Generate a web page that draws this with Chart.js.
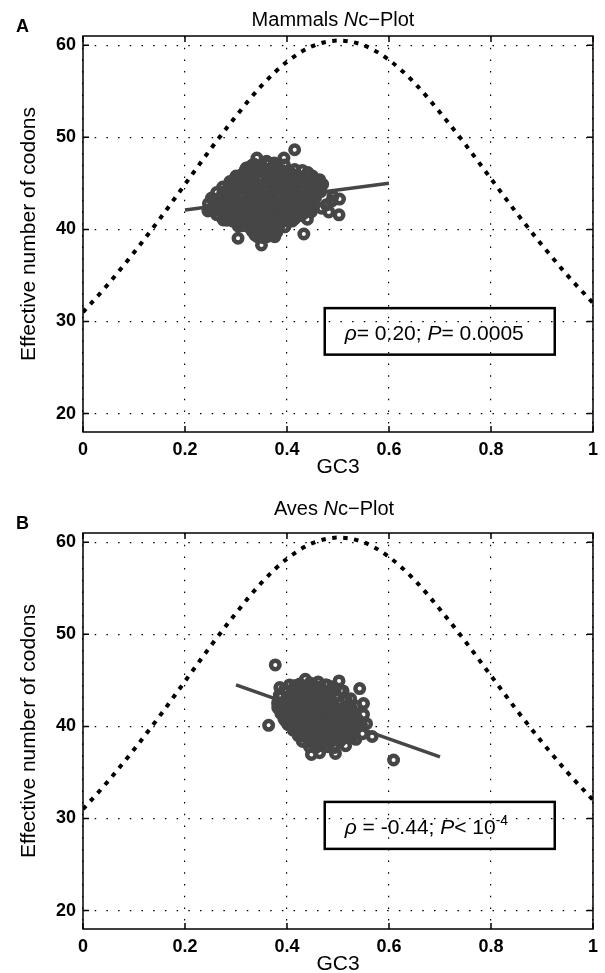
<!DOCTYPE html>
<html>
<head>
<meta charset="utf-8">
<script src="https://cdn.jsdelivr.net/npm/chart.js@4.4.0/dist/chart.umd.min.js"></script>
<style>
html, body { margin: 0; padding: 0; background: #fff; overflow: hidden; }
.panel { position: absolute; left: 0; width: 605px; height: 485px; }
</style>
</head>
<body>
<div class="panel" style="top:0"><canvas id="mammals" width="605" height="485"></canvas></div>
<div class="panel" style="top:497px"><canvas id="aves" width="605" height="485"></canvas></div>
<script>
// axis ticks
const xTickValues = [0, 0.2, 0.4, 0.6, 0.8, 1];
const xTickLabels = ['0', '0.2', '0.4', '0.6', '0.8', '1'];
const yTickValues = [20, 30, 40, 50, 60];
const yTickLabels = ['20', '30', '40', '50', '60'];

// expected Nc curve
const expectedGC3 = [0, 0.05, 0.1, 0.15, 0.2, 0.25, 0.3, 0.35, 0.4, 0.45, 0.5,
                     0.55, 0.6, 0.65, 0.7, 0.75, 0.8, 0.85, 0.9, 0.95, 1];
const expectedNc = [31.0, 34.1, 37.5, 41.1, 44.9, 48.7, 52.3, 55.6, 58.2, 59.9, 60.5,
                    60.0, 58.4, 55.9, 52.7, 49.2, 45.5, 41.8, 38.3, 35.0, 32.0];

// Mammals genes: scattered ones
const mammalsGC3 = [
  0.415, 0.394, 0.341, 0.433, 0.304, 0.350, 0.503, 0.502, 0.477, 0.275, 0.304, 0.448, 0.441, 0.337, 0.360, 0.366,
  0.255, 0.257, 0.275, 0.320, 0.300, 0.464, 0.461, 0.435, 0.488, 0.470, 0.245, 0.262, 0.283, 0.290, 0.310, 0.330,
  0.360, 0.375, 0.390, 0.405, 0.420, 0.430, 0.450, 0.455, 0.440, 0.425, 0.410, 0.395, 0.380, 0.355, 0.345, 0.320,
  0.300, 0.285, 0.270, 0.265, 0.280, 0.295,
  0.40, 0.42, 0.36, 0.34, 0.32, 0.35, 0.37, 0.39, 0.41,
  0.43, 0.415, 0.37, 0.358, 0.372, 0.44, 0.45, 0.468, 0.49, 0.482,
  0.405, 0.415, 0.43, 0.45, 0.455, 0.395, 0.375, 0.36, 0.335, 0.325
];
const mammalsNc = [
  48.65, 47.75, 47.75, 39.5, 39.04, 38.31, 43.29, 41.58, 42.67, 41.03, 40.38, 41.94, 46.18, 39.4, 39.2, 39.6,
  43.2, 42.3, 44.1, 46.66, 45.4, 45.4, 44.5, 43.4, 43.1, 44.9, 42.0, 41.6, 42.6, 44.8, 45.9, 46.9,
  46.3, 46.8, 46.0, 45.6, 45.9, 45.1, 44.2, 43.4, 42.6, 41.5, 40.9, 40.3, 39.9, 39.7, 40.2, 40.9,
  41.5, 41.9, 42.4, 43.0, 43.6, 44.2,
  42.5, 42.9, 42.5, 42.4, 42.6, 43.0, 43.1, 43.0, 43.3,
  42.0, 41.2, 40.0, 39.3, 39.4, 41.1, 42.4, 42.3, 43.6, 41.9,
  46.3, 46.5, 46.4, 45.8, 44.9, 47.0, 47.2, 47.4, 47.1, 46.3
];
// Mammals genes: the dense core of the cloud, row by row
const mammalsCoreGC3 = [
  0.338, 0.350, 0.362,
  0.318, 0.330, 0.342, 0.354, 0.366, 0.378, 0.390,
  0.300, 0.312, 0.324, 0.336, 0.348, 0.360, 0.372, 0.384, 0.396, 0.408, 0.420,
  0.288, 0.300, 0.312, 0.324, 0.336, 0.348, 0.360, 0.372, 0.384, 0.396, 0.408, 0.420, 0.432, 0.444, 0.456,
  0.274, 0.286, 0.298, 0.310, 0.322, 0.334, 0.346, 0.358, 0.370, 0.382, 0.394, 0.406, 0.418, 0.430, 0.442, 0.454, 0.466,
  0.262, 0.274, 0.286, 0.298, 0.310, 0.322, 0.334, 0.346, 0.358, 0.370, 0.382, 0.394, 0.406, 0.418, 0.430, 0.442, 0.454, 0.466,
  0.252, 0.264, 0.276, 0.288, 0.300, 0.312, 0.324, 0.336, 0.348, 0.360, 0.372, 0.384, 0.396, 0.408, 0.420, 0.432, 0.444, 0.456,
  0.246, 0.258, 0.270, 0.282, 0.294, 0.306, 0.318, 0.330, 0.342, 0.354, 0.366, 0.378, 0.390, 0.402, 0.414, 0.426, 0.438, 0.450,
  0.250, 0.262, 0.274, 0.286, 0.298, 0.310, 0.322, 0.334, 0.346, 0.358, 0.370, 0.382, 0.394, 0.406, 0.418, 0.430, 0.442,
  0.264, 0.276, 0.288, 0.300, 0.312, 0.324, 0.336, 0.348, 0.360, 0.372, 0.384, 0.396, 0.408, 0.420, 0.432,
  0.282, 0.294, 0.306, 0.318, 0.330, 0.342, 0.354, 0.366, 0.378, 0.390, 0.402, 0.414,
  0.312, 0.324, 0.336, 0.348, 0.360, 0.372, 0.384, 0.396,
  0.332, 0.344, 0.356, 0.368, 0.380,
  0.342, 0.354, 0.366, 0.376
];
const mammalsCoreNc = [
  47.0, 46.9, 47.1,
  46.4, 46.5, 46.3, 46.4, 46.5, 46.3, 46.4,
  45.8, 45.7, 45.9, 45.8, 45.7, 45.9, 45.8, 45.7, 45.9, 45.8, 45.7,
  45.2, 45.1, 45.3, 45.2, 45.1, 45.3, 45.2, 45.1, 45.3, 45.2, 45.1, 45.3, 45.2, 45.1, 45.3,
  44.6, 44.5, 44.7, 44.6, 44.5, 44.7, 44.6, 44.5, 44.7, 44.6, 44.5, 44.7, 44.6, 44.5, 44.7, 44.6, 44.5,
  44.0, 43.9, 44.1, 44.0, 43.9, 44.1, 44.0, 43.9, 44.1, 44.0, 43.9, 44.1, 44.0, 43.9, 44.1, 44.0, 43.9, 44.1,
  43.4, 43.3, 43.5, 43.4, 43.3, 43.5, 43.4, 43.3, 43.5, 43.4, 43.3, 43.5, 43.4, 43.3, 43.5, 43.4, 43.3, 43.5,
  42.8, 42.7, 42.9, 42.8, 42.7, 42.9, 42.8, 42.7, 42.9, 42.8, 42.7, 42.9, 42.8, 42.7, 42.9, 42.8, 42.7, 42.9,
  42.2, 42.1, 42.3, 42.2, 42.1, 42.3, 42.2, 42.1, 42.3, 42.2, 42.1, 42.3, 42.2, 42.1, 42.3, 42.2, 42.1,
  41.6, 41.5, 41.7, 41.6, 41.5, 41.7, 41.6, 41.5, 41.7, 41.6, 41.5, 41.7, 41.6, 41.5, 41.7,
  41.0, 40.9, 41.1, 41.0, 40.9, 41.1, 41.0, 40.9, 41.1, 41.0, 40.9, 41.1,
  40.4, 40.3, 40.5, 40.4, 40.3, 40.5, 40.4, 40.3,
  39.8, 39.7, 39.9, 39.8, 39.7,
  39.2, 39.1, 39.3, 39.2
];
const mammalsFitGC3 = [0.2, 0.6];
const mammalsFitNc = [42.1, 45.0];

// Aves genes: scattered ones
const avesGC3 = [
  0.377, 0.364, 0.609, 0.567, 0.448, 0.464, 0.495, 0.5425, 0.502, 0.461, 0.436, 0.386, 0.415, 0.51, 0.516, 0.55,
  0.382, 0.397, 0.39, 0.385, 0.395, 0.405, 0.425, 0.445, 0.475, 0.49, 0.505, 0.525, 0.535, 0.55, 0.556, 0.548,
  0.535, 0.515, 0.43, 0.42, 0.41, 0.40, 0.52, 0.53, 0.51
];
const avesNc = [
  46.68, 40.12, 36.35, 38.9, 36.96, 37.15, 37.07, 44.11, 44.94, 44.83, 45.12, 44.22, 44.4, 43.85, 42.87, 42.48,
  42.4, 40.59, 41.9, 43.4, 44.0, 44.5, 44.6, 44.7, 44.5, 44.3, 43.9, 43.0, 42.2, 41.3, 40.3, 39.2,
  38.6, 37.9, 38.4, 39.3, 40.0, 40.9, 40.6, 41.4, 41.9
];
// Aves genes: the dense core of the cloud, row by row
const avesCoreGC3 = [
  0.418, 0.430, 0.442, 0.454, 0.466, 0.478,
  0.398, 0.410, 0.422, 0.434, 0.446, 0.458, 0.470, 0.482, 0.494,
  0.388, 0.400, 0.412, 0.424, 0.436, 0.448, 0.460, 0.472, 0.484, 0.496,
  0.382, 0.394, 0.406, 0.418, 0.430, 0.442, 0.454, 0.466, 0.478, 0.490, 0.502,
  0.382, 0.394, 0.406, 0.418, 0.430, 0.442, 0.454, 0.466, 0.478, 0.490, 0.502, 0.514, 0.526,
  0.388, 0.400, 0.412, 0.424, 0.436, 0.448, 0.460, 0.472, 0.484, 0.496, 0.508, 0.520, 0.532,
  0.394, 0.406, 0.418, 0.430, 0.442, 0.454, 0.466, 0.478, 0.490, 0.502, 0.514, 0.526, 0.538,
  0.402, 0.414, 0.426, 0.438, 0.450, 0.462, 0.474, 0.486, 0.498, 0.510, 0.522, 0.534, 0.546,
  0.412, 0.424, 0.436, 0.448, 0.460, 0.472, 0.484, 0.496, 0.508, 0.520, 0.532,
  0.422, 0.434, 0.446, 0.458, 0.470, 0.482, 0.494, 0.506, 0.518, 0.530,
  0.432, 0.444, 0.456, 0.468, 0.480, 0.492, 0.504,
  0.444, 0.456, 0.468, 0.480, 0.492
];
const avesCoreNc = [
  44.4, 44.3, 44.5, 44.4, 44.3, 44.5,
  43.8, 43.7, 43.9, 43.8, 43.7, 43.9, 43.8, 43.7, 43.9,
  43.2, 43.1, 43.3, 43.2, 43.1, 43.3, 43.2, 43.1, 43.3, 43.2,
  42.6, 42.5, 42.7, 42.6, 42.5, 42.7, 42.6, 42.5, 42.7, 42.6, 42.5,
  42.0, 41.9, 42.1, 42.0, 41.9, 42.1, 42.0, 41.9, 42.1, 42.0, 41.9, 42.1, 42.0,
  41.4, 41.3, 41.5, 41.4, 41.3, 41.5, 41.4, 41.3, 41.5, 41.4, 41.3, 41.5, 41.4,
  40.8, 40.7, 40.9, 40.8, 40.7, 40.9, 40.8, 40.7, 40.9, 40.8, 40.7, 40.9, 40.8,
  40.2, 40.1, 40.3, 40.2, 40.1, 40.3, 40.2, 40.1, 40.3, 40.2, 40.1, 40.3, 40.2,
  39.6, 39.5, 39.7, 39.6, 39.5, 39.7, 39.6, 39.5, 39.7, 39.6, 39.5,
  39.0, 38.9, 39.1, 39.0, 38.9, 39.1, 39.0, 38.9, 39.1, 39.0,
  38.4, 38.3, 38.5, 38.4, 38.3, 38.5, 38.4,
  37.8, 37.7, 37.9, 37.8, 37.7
];
const avesFitGC3 = [0.3, 0.7];
const avesFitNc = [44.5, 36.7];

const FONT = '"Liberation Sans", Arial, Helvetica, sans-serif';
const INK = '#464646';

function toPoints(xs, ys) {
    return xs.map((v, i) => ({ x: v, y: ys[i] }));
}

// draw a line of text made of runs (italic / superscript parts)
function drawRuns(ctx, runs, x, y, size, align) {
    const fontFor = r => (r.it ? 'italic ' : '') + (r.sup ? Math.round(size * 0.65) : size) + 'px ' + FONT;
    let total = 0;
    runs.forEach(r => { ctx.font = fontFor(r); total += ctx.measureText(r.t).width; });
    let cx = align === 'center' ? x - total / 2 : x;
    ctx.textAlign = 'left';
    ctx.textBaseline = 'alphabetic';
    runs.forEach(r => {
        ctx.font = fontFor(r);
        ctx.fillText(r.t, cx, r.sup ? y - size * 0.42 : y);
        cx += ctx.measureText(r.t).width;
    });
}

// MATLAB style box, inner ticks, title, panel letter and stats box
const panelPlugin = {
    id: 'panel',
    afterDraw(chart, args, opts) {
        const { ctx, chartArea: a, scales: { x, y } } = chart;
        ctx.save();
        ctx.strokeStyle = '#000';
        ctx.lineWidth = 1.5;
        ctx.strokeRect(a.left, a.top, a.right - a.left, a.bottom - a.top);
        ctx.beginPath();
        x.ticks.forEach(t => {
            const px = x.getPixelForValue(t.value);
            ctx.moveTo(px, a.bottom); ctx.lineTo(px, a.bottom - 6);
            ctx.moveTo(px, a.top); ctx.lineTo(px, a.top + 6);
        });
        y.ticks.forEach(t => {
            const py = y.getPixelForValue(t.value);
            ctx.moveTo(a.left, py); ctx.lineTo(a.left + 6, py);
            ctx.moveTo(a.right, py); ctx.lineTo(a.right - 6, py);
        });
        ctx.stroke();

        ctx.fillStyle = '#000';
        drawRuns(ctx, opts.title, opts.titleX, opts.titleY, 20, 'center');
        ctx.font = 'bold 18px ' + FONT;
        ctx.textAlign = 'left';
        ctx.fillText(opts.letter, 16, 32);

        const bx1 = x.getPixelForValue(opts.box[0]);
        const bx2 = x.getPixelForValue(opts.box[1]);
        const by1 = y.getPixelForValue(opts.box[2]);
        const by2 = y.getPixelForValue(opts.box[3]);
        ctx.lineWidth = 2.5;
        ctx.strokeRect(bx1, by1, bx2 - bx1, by2 - by1);
        drawRuns(ctx, opts.stat, bx1 + 20, by1 + 32, 21, 'left');
        ctx.restore();
    }
};

function makePanel(id, points, fitX, fitY, panelOpts) {
    const ctx = document.getElementById(id).getContext('2d');
    return new Chart(ctx, {
        type: 'scatter',
        data: {
            datasets: [{
                type: 'line',
                data: toPoints(fitX, fitY),
                borderColor: INK,
                borderWidth: 3.5,
                pointRadius: 0,
                fill: false
            }, {
                data: points,
                pointStyle: 'circle',
                pointRadius: 4.25,
                pointBorderWidth: 4.5,
                pointBorderColor: INK,
                pointBackgroundColor: 'rgba(0,0,0,0)'
            }, {
                type: 'line',
                data: toPoints(expectedGC3, expectedNc),
                borderColor: '#000',
                borderWidth: 4,
                borderDash: [4.5, 6.5],
                cubicInterpolationMode: 'monotone',
                pointRadius: 0,
                fill: false
            }]
        },
        options: {
            responsive: false,
            animation: false,
            events: [],
            layout: { padding: { top: 36, right: 12, left: 0, bottom: 0 } },
            plugins: {
                legend: { display: false },
                tooltip: { enabled: false },
                panel: panelOpts
            },
            scales: {
                x: {
                    type: 'linear',
                    min: 0,
                    max: 1,
                    afterBuildTicks: s => { s.ticks = xTickValues.map(v => ({ value: v })); },
                    afterFit: s => { s.height = 53; },
                    ticks: {
                        callback: (v, i) => xTickLabels[i],
                        padding: 7,
                        color: '#000',
                        font: { family: FONT, size: 18, weight: 'bold' }
                    },
                    grid: { color: '#000', lineWidth: 1.2, drawTicks: false },
                    border: { display: false, dash: [1.5, 10.2] },
                    title: {
                        display: true,
                        text: 'GC3',
                        color: '#000',
                        font: { family: FONT, size: 21 },
                        padding: { top: 0, bottom: 5 }
                    }
                },
                y: {
                    type: 'linear',
                    min: 18,
                    max: 61,
                    afterBuildTicks: s => { s.ticks = yTickValues.map(v => ({ value: v })); },
                    afterFit: s => { s.width = 83; },
                    ticks: {
                        callback: (v, i) => yTickLabels[i],
                        padding: 7,
                        color: '#000',
                        font: { family: FONT, size: 18, weight: 'bold' }
                    },
                    grid: { color: '#000', lineWidth: 1.2, drawTicks: false },
                    border: { display: false, dash: [1.5, 10.2] },
                    title: {
                        display: true,
                        text: 'Effective number of codons',
                        color: '#000',
                        font: { family: FONT, size: 21 },
                        padding: { top: 17, bottom: 0 }
                    }
                }
            }
        },
        plugins: [panelPlugin]
    });
}

makePanel('mammals',
    toPoints(mammalsGC3.concat(mammalsCoreGC3), mammalsNc.concat(mammalsCoreNc)),
    mammalsFitGC3, mammalsFitNc, {
        letter: 'A',
        title: [{ t: 'Mammals ' }, { t: 'N', it: true }, { t: 'c\u2212Plot' }],
        titleX: 333,
        titleY: 26,
        box: [0.474, 0.925, 31.45, 26.4],
        stat: [{ t: '\u03C1', it: true }, { t: '= 0.20; ' }, { t: 'P', it: true }, { t: '= 0.0005' }]
    });

makePanel('aves',
    toPoints(avesGC3.concat(avesCoreGC3), avesNc.concat(avesCoreNc)),
    avesFitGC3, avesFitNc, {
        letter: 'B',
        title: [{ t: 'Aves ' }, { t: 'N', it: true }, { t: 'c\u2212Plot' }],
        titleX: 334,
        titleY: 18,
        box: [0.474, 0.925, 31.8, 26.7],
        stat: [{ t: '\u03C1', it: true }, { t: ' = -0.44; ' }, { t: 'P', it: true }, { t: '< 10' }, { t: '-4', sup: true }]
    });
</script>
</body>
</html>
